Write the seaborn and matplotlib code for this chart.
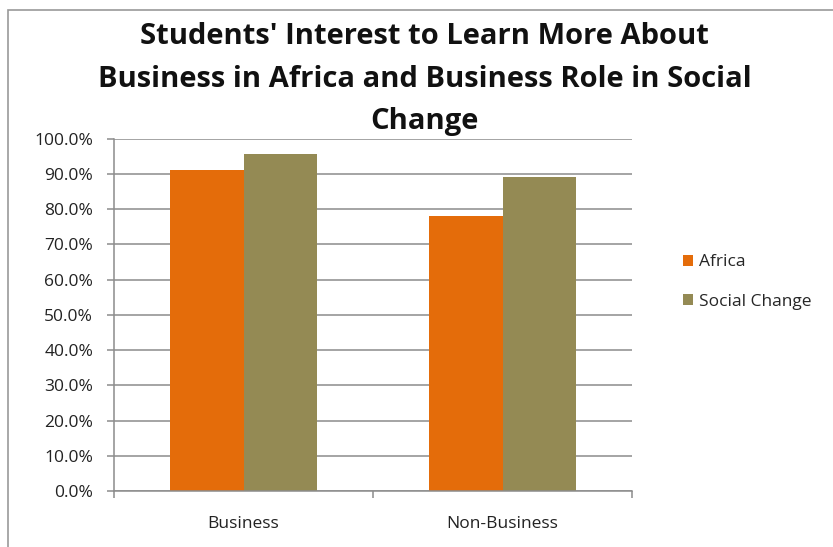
import pandas as pd
import matplotlib.pyplot as plt
import matplotlib.ticker as mticker
import matplotlib.patches as mpatches
import seaborn as sns

groups = ["Business", "Non-Business"]
series = ["Africa", "Social Change"]
africa = [0.91, 0.78]
social_change = [0.955, 0.89]
colors = ["#E46C0A", "#948A54"]

df = pd.DataFrame({
    "Group": groups * 2,
    "Series": [series[0]] * 2 + [series[1]] * 2,
    "Value": africa + social_change,
})

sns.set_theme(style="white")
plt.rcParams['font.family'] = ['Open Sans', 'DejaVu Sans']

fig = plt.figure(figsize=(8.33, 5.47), dpi=100)
ax = fig.add_axes([114 / 833, 1 - 491 / 547, (632 - 114) / 833, (491 - 138.6) / 547])

sns.barplot(data=df, x="Group", y="Value", hue="Series", palette=colors,
            width=0.57, saturation=1, linewidth=0, ax=ax, legend=True)

grid_col = "#8c8c8c"
ax.set_ylim(0, 1)
ax.set_xlim(-0.5, 1.5)
ax.yaxis.set_major_locator(mticker.MultipleLocator(0.1))
ax.yaxis.set_major_formatter(mticker.PercentFormatter(1.0, decimals=1))
ax.yaxis.grid(True, color=grid_col, linewidth=1.1)
ax.set_axisbelow(True)
ax.set_xlabel("")
ax.set_ylabel("")
for s in ["top", "right"]:
    ax.spines[s].set_visible(False)
for s in ["left", "bottom"]:
    ax.spines[s].set_color(grid_col)
    ax.spines[s].set_linewidth(1.1)

ax.tick_params(axis="y", which="major", left=True, length=5, width=1.1,
               color=grid_col, pad=10, labelsize=12.5, labelcolor="#222222")
ax.tick_params(axis="x", which="major", bottom=False, pad=12,
               labelsize=12.5, labelcolor="#222222")
ax.set_xticks([-0.5, 0.5, 1.5], minor=True)
ax.tick_params(axis="x", which="minor", bottom=True, length=5, width=1.1,
               color=grid_col)

handles, labels = ax.get_legend_handles_labels()
ax.legend(handles, labels, loc="center left", frameon=False,
          bbox_to_anchor=(676 / 833, 1 - 282 / 547), bbox_transform=fig.transFigure,
          handlelength=0.6, handleheight=0.6, handletextpad=0.3,
          labelspacing=1.35, fontsize=12.5, borderaxespad=0)

fig.text(0.51, 1 - 22 / 547,
         "Students' Interest to Learn More About\n"
         "Business in Africa and Business Role in Social\n"
         "Change",
         ha="center", va="top", fontsize=21, fontweight="bold",
         linespacing=1.62, color="#111111")

fig.patches.append(mpatches.Rectangle((8 / 833, -0.05), 1.1, 1.05 - 10 / 547,
                                      transform=fig.transFigure, fill=False,
                                      edgecolor="#999999", linewidth=1.2))

fig.savefig("out.png", dpi=100)
